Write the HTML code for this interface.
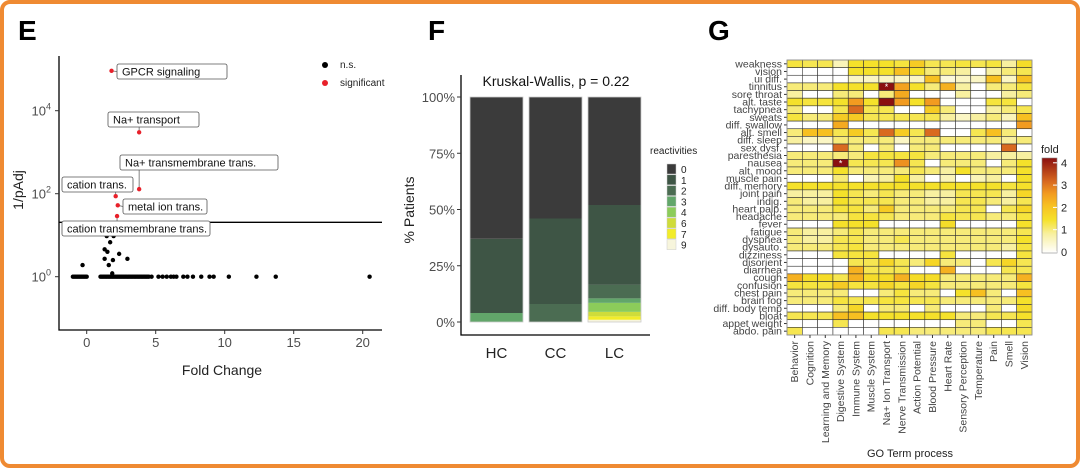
<!DOCTYPE html>
<html><head><meta charset="utf-8"><style>
body{margin:0;background:#fff;font-family:"Liberation Sans",Arial,sans-serif}
svg{display:block}
</style></head><body>
<svg id="root" width="1080" height="468" xmlns="http://www.w3.org/2000/svg" font-family="Liberation Sans, Arial, sans-serif">
<rect x="2" y="2" width="1076" height="464" rx="8" fill="#fff" stroke="#ef8a32" stroke-width="4"/>
<text x="18" y="40" font-size="28" font-weight="bold">E</text>
<text x="428" y="40" font-size="28" font-weight="bold">F</text>
<text x="708" y="40" font-size="28" font-weight="bold">G</text>
<g id="pe"></g>
<g id="pf"></g>
<g id="pg"></g>
</svg>
<script>
// ---------- Panel E data ----------
const sigFold=[1.8,3.8,3.8,2.1,2.25,2.2];
const sigLogP=[4.96,3.48,2.11,1.94,1.72,1.46];
const sigNames=["GPCR signaling","Na+ transport","Na+ transmembrane trans.","cation trans.","metal ion trans.","cation transmembrane trans."];
const nsFold=[-1,-0.9,-0.8,-0.7,-0.6,-0.5,-0.4,-0.3,-0.2,-0.1,0,1,1.1,1.2,1.3,1.4,1.5,1.6,1.7,1.8,1.9,2,2.1,2.2,2.3,2.4,2.5,2.6,2.7,2.8,2.9,3,3.1,3.2,3.3,3.4,3.5,3.6,3.7,3.8,3.9,4,4.1,4.2,4.3,4.4,4.5,4.7,5.2,5.5,5.8,6.1,6.3,6.5,7,7.3,7.7,8.3,8.9,9.2,10.3,12.3,13.7,20.5,-0.3,1.3,1.3,1.5,1.7,1.45,1.95,1.6,1.9,2.35,2.95,1.85];
const nsLogP=[0,0,0,0,0,0,0,0,0,0,0,0,0,0,0,0,0,0,0,0,0,0,0,0,0,0,0,0,0,0,0,0,0,0,0,0,0,0,0,0,0,0,0,0,0,0,0,0,0,0,0,0,0,0,0,0,0,0,0,0,0,0,0,0,0.28,0.66,0.43,0.6,0.83,0.98,0.98,0.28,0.4,0.55,0.43,0.08];
const eXTicks=[0,5,10,15,20];
const eYTicks=[0,2,4];
const eThreshold=1.31;
// ---------- Panel F data ----------
const fCats=["HC","CC","LC"];
const fLevels=["0","1","2","3","4","6","7","9"];
const fColors=["#3b3b3b","#3e5545","#4b6c52","#62a66a","#8ccc5a","#cfdc3a","#f2ec2a","#f7f5dc"];
const fHC=[63,33,0,4,0,0,0,0];
const fCC=[54,38,8,0,0,0,0,0];
const fLC=[48,35.5,6,2,4,2,1.5,1];
const fYTicks=[0,25,50,75,100];
// ---------- Panel G data ----------
const gRows=["weakness","vision","ui diff.","tinnitus","sore throat","alt. taste","tachypnea","sweats","diff. swallow","alt. smell","diff. sleep","sex dysf.","paresthesia","nausea","alt. mood","muscle pain","diff. memory","joint pain","indig.","heart palp.","headache","fever","fatigue","dyspnea","dysauto.","dizziness","disorient","diarrhea","cough","confusion","chest pain","brain fog","diff. body temp","bloat","appet weight","abdo. pain"];
const gCols=["Behavior","Cognition","Learning and Memory","Digestive System","Immune System","Muscle System","Na+ Ion Transport","Nerve Transmission","Action Potential","Blood Pressure","Heart Rate","Sensory Perception","Temperature","Pain","Smell","Vision"];
const gVals=[
[1.3,1.2,1.2,0.6,1.4,1.4,1.4,1.3,1.8,1.2,1.2,1.3,1.2,1.3,0.8,1.5],
[0,0,0,0,1.4,1.4,1.4,2,1.4,1,1,0.8,0,0.8,1,1.2],
[0,0,0,0,0.5,0.5,0.5,0.5,0.5,2,0.3,0.5,0.5,2,0.5,2],
[1,1,1,1.4,1.4,1.4,4,2.4,1.4,1,2.2,0.8,0,1,1,1.3],
[0.8,0,0,1,1,0,1,2.3,0,0,0,0.8,0,0,0.8,1],
[1.4,1.3,1.3,1.4,2.5,1.4,4,2.5,1.4,2.5,0,0,0,1.3,1.3,0],
[1,0,0,1.2,3,1.2,1.2,0,0,1.8,1,0,0,0.8,1,1.2],
[1.3,1,1,1.8,1.8,1.2,1.2,1.2,1.2,1.2,0.8,0.5,0.8,1,0.6,2],
[0,0,0,2.3,0,0,0,0,0,0,0,0,0,0,0,2.5],
[1,2,2,1.2,1.8,1.2,3,1.8,1.2,3,0,0,1.2,2,1,0],
[0.8,0.5,0.5,1,1,1,1,0.5,1,1,1,1,1,1,0.8,1],
[0,0,0,3,1,0,1,0,1,1,0,0,0,0,3,0],
[1,1,1,1,1,1.3,1.3,1.3,1.3,1,1,1,1,0.8,0.8,0.8],
[1,1,1,4,1.2,1.2,1.2,2.6,1.2,0,1,1,1,0,1,1.4],
[1,1,1,1.4,1,1,1,1,1.2,1,0.8,1.4,1,1,1,1.4],
[0,0,0,1,0,0.6,0.8,1.4,0.8,0,0.6,0,0.6,0.8,0,1.4],
[1.4,1.4,1.4,1.4,1.4,1.4,1.4,1.4,1.4,1.4,1.4,1.4,1.4,1.4,1.3,1.4],
[0.8,0.8,0.8,1.4,1.2,1,1.2,1,1,0.8,0.8,1.2,1.2,1.2,0.8,1.6],
[1,0.8,0.8,1.4,1.2,1.2,1.2,1,1,0.8,0.8,1.2,1.2,1,0.8,1.2],
[1,1,1,1.3,1.3,1,1.8,1,1,1,1,1.2,1.2,0,1.2,1.6],
[1,1,1,1,1.3,1.3,1.2,1,1,1,1.3,1.2,1.2,1,1,1.3],
[0,0,0,1.4,1.4,1.4,0,0,0,0,1.5,0,0,0,0,1.4],
[1,0.8,0.8,1,1.2,1,1,1,1,1,1,1,1,1,1,1.2],
[1,0.8,0.8,1.2,1.2,1,1,1.2,1,1,1,1,1,1,1,1.4],
[1,1,1,1.2,1.3,1,1,1,1,1,1,1,1,1,0.8,1.3],
[0,0,0,1.3,1.3,1.3,0,0,0,0,1.3,0,0,0,0,1.3],
[0,0,0,0,1.2,1.2,1.6,1.2,1,1.6,1,1,0,1.2,1.6,1.2],
[0,0,0,0,2.2,1.2,1.2,1.2,0,0,2.2,0,0,0,1.2,1.2],
[2.2,1.5,1.5,1.2,2.2,1.5,1.5,2.2,1.5,1.5,1,1,1,1,1,2.2],
[1.3,1.3,1.3,1.8,1.3,1.3,1.6,1.3,1.6,1.3,1,1,1,1,1,1.3],
[1,1,1,1,0,0,1,1.3,1,1,0,1.4,2,1,0,2],
[1,1,1,1.3,1.2,1.2,1.3,1.3,1.2,1.2,1,1,1,1,1,1.4],
[0,0,0,1,1.6,0,1,1,0,1,0,0,0,1,0,1.5],
[1.2,1.2,1.2,2,2,1.4,1.4,1.4,1.4,1.4,1.4,1,1,1.2,1.2,1.4],
[0,0,0,1.2,0,0,0,0,0,0,0,1,1,0,0,1.2],
[1.2,0,0,0,0,0,1.2,1.2,1,1,1,1,1,1.2,1.2,1.2]];
const gStars=[[3,6],[13,3]];
const gLegendTicks=[0,1,2,3,4];

const NS="http://www.w3.org/2000/svg";
function mk(parent,tag,attrs,text){const e=document.createElementNS(NS,tag);for(const k in attrs)e.setAttribute(k,attrs[k]);if(text!==undefined)e.textContent=text;parent.appendChild(e);return e;}

// ---------- Panel E ----------
(function(){
const g=document.getElementById('pe');
const xS=v=>86.7+v*13.8, yS=v=>276.7-v*41.5;
const ax=mk(g,'path',{d:'M59,56 V330 H382',fill:'none',stroke:'#000','stroke-width':1.3});

eXTicks.forEach(t=>{const l=mk(g,'line',{x1:xS(t),x2:xS(t),y1:330,y2:334,stroke:'#333'});
const tx=mk(g,'text',{x:xS(t),y:347,'font-size':13,fill:'#4d4d4d','text-anchor':'middle'},String(t));});
eYTicks.forEach(t=>{const l=mk(g,'line',{x1:55,x2:59,y1:yS(t),y2:yS(t),stroke:'#333'});
const tx=mk(g,'text',{x:51,y:yS(t)+5,'font-size':13,fill:'#4d4d4d','text-anchor':'end'});
tx.appendChild(document.createTextNode('10'));const s=mk(tx,'tspan',{dy:-6,'font-size':9},String(t));});
const th=mk(g,'line',{x1:59,x2:382,y1:yS(eThreshold),y2:yS(eThreshold),stroke:'#000','stroke-width':1.3});
nsFold.forEach((f,i)=>{const c=mk(g,'circle',{cx:xS(f),cy:yS(nsLogP[i]),r:2.2,fill:'#000'});});
const boxes=[[117,64,110],[108,112,91],[120,155,158],[62,177,71],[123,199,84],[62,221,148]];
sigFold.forEach((f,i)=>{const px=xS(f),py=yS(sigLogP[i]);const b=boxes[i];
const ly=b[1]+7.5;const lx=Math.max(b[0],Math.min(b[0]+b[2],px));
const cy2=py<b[1]?b[1]:(py>b[1]+15?b[1]+15:ly);
const ln=mk(g,'line',{x1:px,y1:py,x2:(py>=b[1]&&py<=b[1]+15)?b[0]:lx,y2:cy2,stroke:'#666','stroke-width':0.8});
const c=mk(g,'circle',{cx:px,cy:py,r:2.2,fill:'#e8202a'});
const r=mk(g,'rect',{x:b[0],y:b[1],width:b[2],height:15,rx:2,fill:'#fff',stroke:'#555','stroke-width':0.8});
const t=mk(g,'text',{x:b[0]+5,y:b[1]+11.5,'font-size':11,fill:'#111'},sigNames[i]);});
const c1=mk(g,'circle',{cx:325,cy:65,r:3,fill:'#000'});
const t1=mk(g,'text',{x:340,y:68,'font-size':10,fill:'#222'},'n.s.');
const c2=mk(g,'circle',{cx:325,cy:83,r:3,fill:'#e8202a'});
const t2=mk(g,'text',{x:340,y:86,'font-size':10,fill:'#222'},'significant');
const xt=mk(g,'text',{x:222,y:375,'font-size':14,fill:'#222','text-anchor':'middle'},'Fold Change');
const yt=mk(g,'text',{x:0,y:0,'font-size':14,fill:'#222','text-anchor':'middle',transform:'translate(23,190) rotate(-90)'},'1/pAdj');
})();

// ---------- Panel F ----------
(function(){
const g=document.getElementById('pf');
const yS=v=>322-v*2.25;const bx=[470,529,588],bw=53;const series=[fHC,fCC,fLC];
series.forEach((s,ci)=>{let acc=0;for(let k=s.length-1;k>=0;k--){if(s[k]<=0)continue;const y0=acc;acc+=s[k];
const r=mk(g,'rect',{x:bx[ci],y:yS(acc),width:bw,height:yS(y0)-yS(acc),fill:fColors[k]});}
const o=mk(g,'rect',{x:bx[ci],y:yS(100),width:bw,height:yS(0)-yS(100),fill:'none',stroke:'#ccc','stroke-width':0.8});
const t=mk(g,'text',{x:bx[ci]+bw/2,y:358,'font-size':15,fill:'#222','text-anchor':'middle'},fCats[ci]);});
const ax=mk(g,'path',{d:'M461,75 V335 H650',fill:'none',stroke:'#000','stroke-width':1.3});
fYTicks.forEach(t=>{const l=mk(g,'line',{x1:457,x2:461,y1:yS(t),y2:yS(t),stroke:'#333'});
const tx=mk(g,'text',{x:455,y:yS(t)+5,'font-size':13,fill:'#4d4d4d','text-anchor':'end'},t+'%');});
const tt=mk(g,'text',{x:556,y:86,'font-size':14,fill:'#111','text-anchor':'middle'},'Kruskal-Wallis, p = 0.22');
const yt=mk(g,'text',{x:0,y:0,'font-size':14,fill:'#222','text-anchor':'middle',transform:'translate(414,210) rotate(-90)'},'% Patients');
const lt=mk(g,'text',{x:650,y:154,'font-size':10,fill:'#222'},'reactivities');
fLevels.forEach((lv,k)=>{const r=mk(g,'rect',{x:667,y:164+k*10.8,width:9,height:10,fill:fColors[k],stroke:'#ccc','stroke-width':0.5});
const t=mk(g,'text',{x:681,y:173+k*10.8,'font-size':10,fill:'#222'},lv);});
})();

// ---------- Panel G ----------
(function(){
const g=document.getElementById('pg');
const x0=787,y0=60,cw=245/gCols.length,rh=275/gRows.length;
const stops=[[0,[255,255,255]],[0.8,[248,240,160]],[1.4,[245,225,42]],[2,[247,192,33]],[2.5,[242,155,32]],[3,[217,106,32]],[4,[139,16,16]]];
function col(v){for(let i=1;i<stops.length;i++){if(v<=stops[i][0]){const a=stops[i-1],b=stops[i];const t=(v-a[0])/(b[0]-a[0]);const c=a[1].map((x,j)=>Math.round(x+(b[1][j]-x)*t));return 'rgb('+c.join(',')+')';}}return 'rgb(139,16,16)';}
const defs=mk(document.getElementById('root'),'defs',{});const lg=mk(defs,'linearGradient',{id:'fg',x1:0,y1:1,x2:0,y2:0});
stops.forEach(s=>mk(lg,'stop',{offset:(s[0]/4*100)+'%','stop-color':col(s[0])}));
gVals.forEach((row,ri)=>{row.forEach((v,ci)=>{const r=mk(g,'rect',{x:x0+ci*cw,y:y0+ri*rh,width:cw,height:rh,fill:col(v),stroke:'#333','stroke-width':0.6});});
const l=mk(g,'line',{x1:x0-3,x2:x0,y1:y0+(ri+0.5)*rh,y2:y0+(ri+0.5)*rh,stroke:'#333'});
const t=mk(g,'text',{x:x0-5,y:y0+(ri+0.5)*rh+3.5,'font-size':10.5,fill:'#444','text-anchor':'end'},gRows[ri]);});
const fr=mk(g,'rect',{x:x0,y:y0,width:245,height:275,fill:'none',stroke:'#999','stroke-width':0.8});
gStars.forEach(s=>{const t=mk(g,'text',{x:x0+(s[1]+0.5)*cw,y:y0+(s[0]+0.5)*rh+3.5,'font-size':9,fill:'#fff','text-anchor':'middle'},'*');});
gCols.forEach((c,ci)=>{const cx=x0+(ci+0.5)*cw;const l=mk(g,'line',{x1:cx,x2:cx,y1:335,y2:338,stroke:'#333'});
const t=mk(g,'text',{x:0,y:0,'font-size':10.5,fill:'#444','text-anchor':'end',transform:'translate('+(cx+3.5)+',341) rotate(-90)'},c);});
const gt=mk(g,'text',{x:910,y:457,'font-size':11,fill:'#222','text-anchor':'middle'},'GO Term process');
const ft=mk(g,'text',{x:1041,y:153,'font-size':11,fill:'#222'},'fold');
const cb=mk(g,'rect',{x:1042,y:158,width:15,height:95,fill:'url(#fg)',stroke:'#888','stroke-width':0.6});
gLegendTicks.forEach(v=>{const yy=252-v*22.3;const l=mk(g,'line',{x1:1053,x2:1057,y1:yy,y2:yy,stroke:'#fff'});
const t=mk(g,'text',{x:1061,y:yy+4,'font-size':11,fill:'#222'},String(v));});
})();
</script>
</body></html>
